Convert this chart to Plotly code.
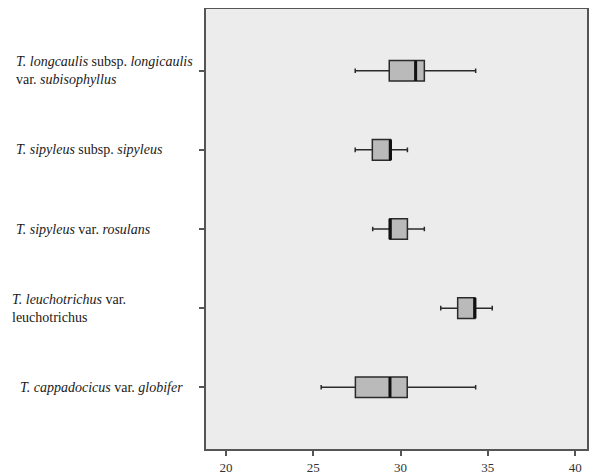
import plotly.graph_objects as go

labels = [
    "<i>T. longcaulis</i> subsp. <i>longicaulis</i><br>var. <i>subisophyllus</i>",
    "<i>T. sipyleus</i> subsp. <i>sipyleus</i>",
    "<i>T. sipyleus</i> var. <i>rosulans</i>",
    "<i>T. leuchotrichus</i> var.<br>leuchotrichus",
    "<i>T. cappadocicus</i> var. <i>globifer</i>",
]
label_x_px = [14, 14, 14, 10, 18]
lower = [27.4, 27.4, 28.4, 32.3, 25.45]
q1 = [29.35, 28.38, 29.39, 33.27, 27.41]
median = [30.86, 29.42, 29.39, 34.26, 29.39]
q3 = [31.36, 29.42, 30.39, 34.26, 30.38]
upper = [34.3, 30.39, 31.36, 35.25, 34.3]
xticks = [20, 25, 30, 35, 40]

positions = list(range(len(labels)))
box_w = 0.26

fig = go.Figure()
for i in positions:
    fig.add_trace(go.Box(
        orientation="h",
        y=[i], q1=[q1[i]], median=[median[i]], q3=[q3[i]],
        lowerfence=[lower[i]], upperfence=[upper[i]],
        width=box_w, whiskerwidth=0.22,
        fillcolor="#bababa",
        line=dict(color="#2a2a2a", width=1.5),
        showlegend=False, hoverinfo="skip",
    ))

# thick median lines
mx, my = [], []
for i in positions:
    mx += [median[i], median[i], None]
    my += [i - box_w / 2, i + box_w / 2, None]
fig.add_trace(go.Scatter(x=mx, y=my, mode="lines",
                         line=dict(color="#111111", width=3),
                         showlegend=False, hoverinfo="skip"))

W, H = 581, 468
L, R, T, B = 198, 2, 1, 27
plot_w = W - L - R
for i in positions:
    fig.add_annotation(
        x=(label_x_px[i] - 206) / plot_w, xref="paper", xanchor="left",
        y=i, yref="y", yanchor="middle",
        text=labels[i], showarrow=False, align="left",
        font=dict(family="Liberation Serif", size=14, color="#1a1a1a"),
    )

fig.update_layout(
    width=W, height=H,
    margin=dict(l=L, r=R, t=T, b=B),
    paper_bgcolor="white", plot_bgcolor="#ececec",
    font=dict(family="Liberation Serif", size=13, color="#333333"),
    boxmode="overlay",
)
fig.update_xaxes(
    range=[18.85, 40.68], tickvals=xticks, ticktext=[str(t) for t in xticks],
    showgrid=False, zeroline=False, automargin=False,
    showline=True, mirror=True, linecolor="#555555", linewidth=2,
    ticks="outside", ticklen=5, tickwidth=2, tickcolor="#555555",
    tickfont=dict(family="Liberation Serif", size=13, color="#333333"),
)
fig.update_yaxes(
    range=[4.78, -0.78], tickvals=positions, ticktext=[""] * len(positions),
    showgrid=False, zeroline=False, automargin=False,
    showline=True, mirror=True, linecolor="#555555", linewidth=2,
    ticks="outside", ticklen=5, tickwidth=2, tickcolor="#555555",
)

fig.write_html("out.html")
